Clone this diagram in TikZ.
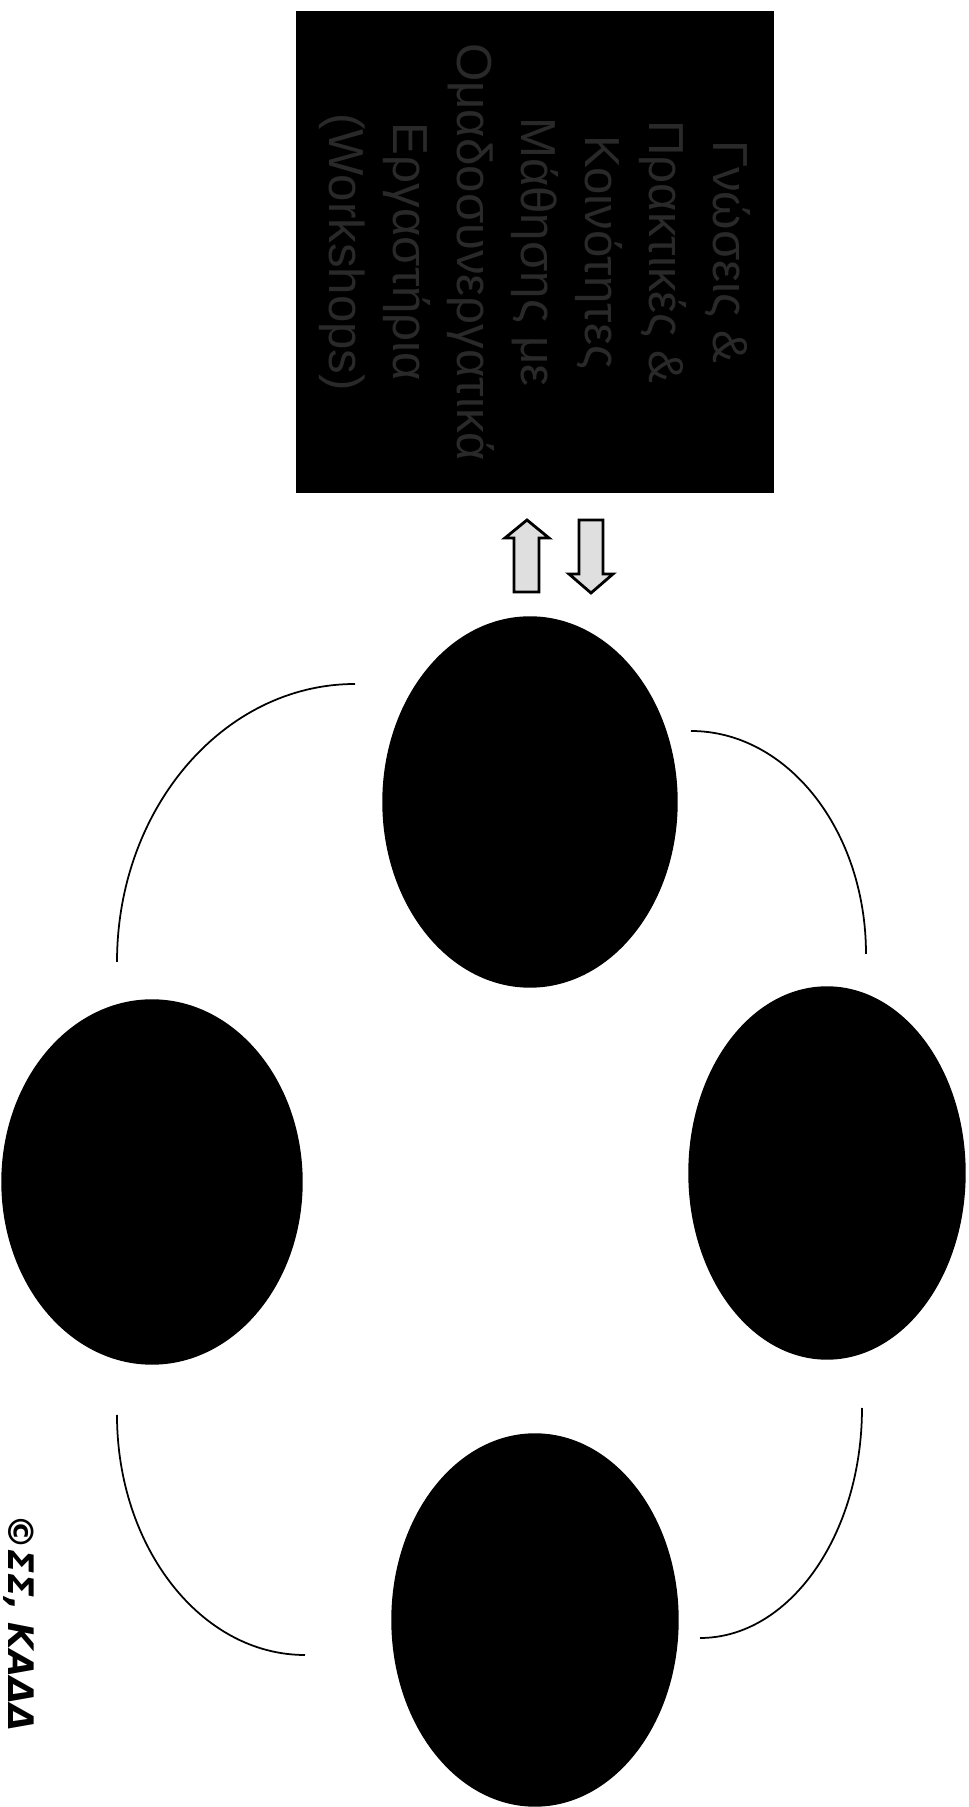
\documentclass[tikz,border=0pt]{standalone}
\usepackage{fontspec}
\setmainfont{Liberation Sans}
\newfontfamily\creditfont{DejaVu Sans}
\usetikzlibrary{shapes.geometric}

\begin{document}
\begin{tikzpicture}[
  x=0.1mm, y=0.1mm,
  phase/.style={ellipse, draw=black, fill=black, inner sep=0pt},
  infobox/.style={rectangle, draw=black, fill=black, inner sep=0pt,
                  minimum width=48mm, minimum height=47.6mm, rotate=-90,
                  align=center, text=black!84,
                  font=\fontsize{14}{18.2}\selectfont},
  blockarrow/.style={draw=black, line width=0.8pt, fill=gray!25, line join=miter},
  cycleline/.style={line width=0.5pt}
]
\useasboundingbox (0,0) rectangle (969,1807);
\clip (0,0) rectangle (969,1807);

% -------- PLAISIO --------
\node[infobox] (methods) at (535,1555)
  {Γνώσεις \&\\Πρακτικές \&\\Κοινότητες\\Μάθησης με\\Ομαδοσυνεργατικά\\Εργαστήρια\\(Workshops)};

% -------- KYKLOS --------
\node[phase, minimum width=29.4mm, minimum height=37mm] (etop) at (530,1005) {};
\node[phase, minimum width=30mm, minimum height=36.4mm] (eleft) at (152,625) {};
\node[phase, minimum width=27.6mm, minimum height=37.2mm] (eright) at (827,634) {};
\node[phase, minimum width=28.6mm, minimum height=37.2mm] (ebot) at (535,187) {};

% Velh anamesa se plaisio kai kyklo
\draw[blockarrow] (514,1215) -- (514,1269) -- (505,1269) -- (527,1287)
  -- (549,1269) -- (539,1269) -- (539,1215) -- cycle;
\draw[blockarrow] (579,1287) -- (579,1233) -- (569,1233) -- (591,1214)
  -- (613,1233) -- (603,1233) -- (603,1287) -- cycle;

% Tokseis tou kyklou
\coordinate (arcTL) at (355,1123);
\coordinate (arcTR) at (691,1076);
\coordinate (arcBL) at (117,392);
\coordinate (arcBR) at (862,399);
\draw[cycleline] (arcTL) arc[start angle=90, end angle=180, x radius=23.8mm, y radius=27.8mm];
\draw[cycleline] (arcTR) arc[start angle=90, end angle=0, x radius=17.5mm, y radius=22.3mm];
\draw[cycleline] (arcBL) arc[start angle=180, end angle=270, x radius=18.8mm, y radius=24mm];
\draw[cycleline] (arcBR) arc[start angle=0, end angle=-90, x radius=16.2mm, y radius=23mm];

% Copyright
\node[rotate=-90, inner sep=0pt,
      font=\creditfont\bfseries\itshape\fontsize{10}{12}\selectfont] (credit) at (19,184) {©ΣΣ, ΚΑΔΔ};

\end{tikzpicture}
\end{document}
